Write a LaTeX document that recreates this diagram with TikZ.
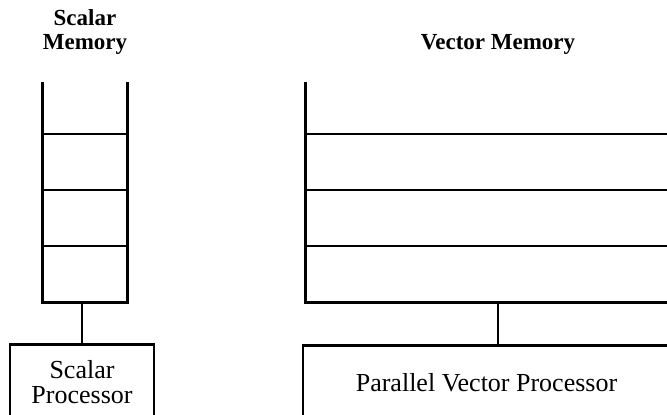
\documentclass[tikz,border=0pt]{standalone}
\usepackage{fontspec}
\setmainfont{Liberation Serif}
\usetikzlibrary{positioning}

\begin{document}
\begin{tikzpicture}[x=1pt,y=1pt,
    mem/.style={minimum width=#1,minimum height=220pt,inner sep=0pt},
    proc/.style={draw,line width=2.4pt,inner sep=0pt,align=center,
      font=\fontsize{26}{25}\selectfont},
    ttl/.style={inner sep=0pt,align=center,
      font=\bfseries\fontsize{23}{24}\selectfont},
    side/.style={line width=2.8pt},
    row/.style={line width=1.7pt},
    wire/.style={line width=1.3pt}]
  \useasboundingbox (0,0) rectangle (667,-415);

  % the two memories, open at the top
  \node[mem=84pt] (smem) at (85,-192) {};
  \node[mem=364pt] (vmem) at (488,-192) {};
  \draw[side] (smem.north west) |- (smem.south east) -- (smem.north east);
  \draw[side] (vmem.north west) |- (vmem.south east);
  \foreach \y in {52,108,164} {
    \draw[row] ([yshift=-\y pt]smem.north west) -- ([yshift=-\y pt]smem.north east);
    \draw[row] ([yshift=-\y pt]vmem.north west) -- ([yshift=-\y pt]vmem.north east);
  }

  \node[ttl,above=27pt of smem.north] (stitle) {Scalar\\Memory};
  \node[ttl,above=27pt of vmem.north,xshift=10pt] (vtitle) {Vector Memory};

  % processors
  \node[proc,minimum width=144pt,minimum height=75pt,below=41pt of smem,xshift=-3pt] (sproc) {Scalar\\Processor};
  \node[proc,minimum width=367pt,minimum height=75pt,below=42pt of vmem,xshift=-1.5pt] (pvp) {Parallel Vector Processor};

  \draw[wire] (sproc.north) -- (sproc.north |- smem.south);
  \draw[wire] ([xshift=11.5pt]pvp.north) -- ([xshift=11.5pt]pvp.north |- vmem.south);
\end{tikzpicture}
\end{document}
